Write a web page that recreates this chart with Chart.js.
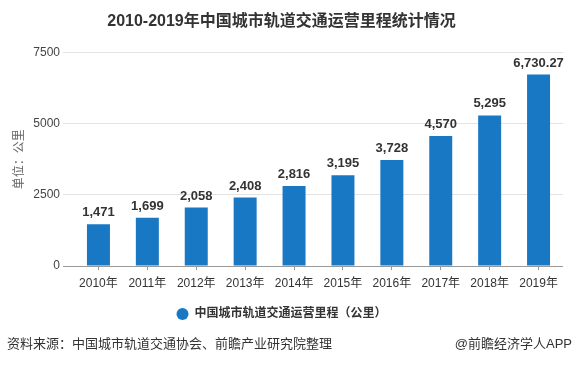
<!DOCTYPE html>
<html lang="zh">

<head>
    <meta charset="UTF-8">
    <title>2010-2019年中国城市轨道交通运营里程统计情况</title>
    <script src="https://cdn.jsdelivr.net/npm/chart.js"></script>
    <style>
        body { margin: 0; background: #fff; }
        #wrap { position: relative; width: 577px; height: 366px; }
        #canvas { position: absolute; left: 0; top: 0; }
        .foot { position: absolute; top: 335px; font: 13px "Liberation Sans", "Noto Sans CJK SC", sans-serif; color: #333; line-height: 18px; }
        #src { left: 7px; }
        #app { right: 5px; }
    </style>
</head>

<body>
    <div id="wrap">
        <canvas id="canvas" width="577" height="366"></canvas>
        <div class="foot" id="src">资料来源：中国城市轨道交通协会、前瞻产业研究院整理</div>
        <div class="foot" id="app">@前瞻经济学人APP</div>
    </div>
</body>

</html>
<script>
    const years = ['2010年', '2011年', '2012年', '2013年', '2014年', '2015年', '2016年', '2017年', '2018年', '2019年'];
    const mileage = [1471, 1699, 2058, 2408, 2816, 3195, 3728, 4570, 5295, 6730.27];
    const yTicks = [0, 2500, 5000, 7500];

    const FONT = '"Liberation Sans", "Noto Sans CJK SC", sans-serif';

    // value labels above bars
    const barLabels = {
        id: 'barLabels',
        afterDatasetsDraw(chart) {
            const ctx = chart.ctx;
            ctx.save();
            ctx.font = 'bold 13px "Liberation Sans", Arial, sans-serif';
            ctx.fillStyle = '#333';
            ctx.textAlign = 'center';
            ctx.textBaseline = 'bottom';
            chart.getDatasetMeta(0).data.forEach((bar, i) => {
                ctx.fillText(mileage[i].toLocaleString('en-US'), bar.x, bar.y - 5);
            });
            ctx.restore();
        }
    };

    const ctx = document.getElementById('canvas').getContext('2d');
    const chart = new Chart(ctx, {
        type: 'bar',
        data: {
            labels: years,
            datasets: [{
                label: '中国城市轨道交通运营里程（公里）',
                data: mileage,
                backgroundColor: '#1878c4',
                categoryPercentage: 1,
                barPercentage: 0.47
            }]
        },
        options: {
            responsive: false,
            animation: false,
            layout: { padding: { left: 0, right: 14, top: 0, bottom: 36 } },
            plugins: {
                title: {
                    display: true,
                    text: '2010-2019年中国城市轨道交通运营里程统计情况',
                    color: '#333',
                    font: { family: FONT, size: 16, weight: 'bold' },
                    padding: { top: 12, bottom: 21.5 }
                },
                legend: {
                    position: 'bottom',
                    labels: {
                        usePointStyle: true,
                        pointStyle: 'circle',
                        boxWidth: 12,
                        boxHeight: 8.5,
                        color: '#333',
                        font: { family: FONT, size: 12, weight: 'bold' }
                    }
                },
                tooltip: { enabled: false }
            },
            scales: {
                x: {
                    grid: {
                        offset: false,
                        drawOnChartArea: false,
                        tickLength: 4,
                        color: '#999'
                    },
                    border: { display: false },
                    ticks: {
                        color: '#333',
                        padding: 6,
                        font: { family: FONT, size: 12 }
                    },
                    afterFit(scale) { scale.height = 32; }
                },
                y: {
                    min: 0,
                    max: 7500,
                    afterBuildTicks(scale) { scale.ticks = yTicks.map(v => ({ value: v })); },
                    grid: {
                        color: c => c.tick && c.tick.value === 0 ? '#999' : '#e3e3e3',
                        tickLength: 11
                    },
                    border: { display: false },
                    ticks: {
                        color: '#444',
                        padding: 3,
                        font: { family: FONT, size: 12 },
                        callback: v => String(v)
                    },
                    title: {
                        display: true,
                        text: '单位：公里',
                        color: '#666',
                        padding: { top: 12, bottom: 0 },
                        font: { family: FONT, size: 12 }
                    },
                    afterFit(scale) { scale.width = 74; }
                }
            }
        },
        plugins: [barLabels]
    });
</script>
